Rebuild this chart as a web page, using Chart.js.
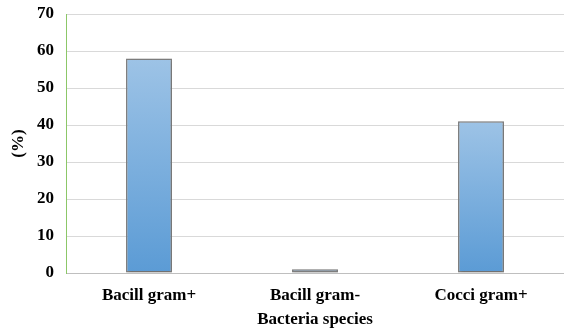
<!DOCTYPE html>
<html>
<head>
<meta charset="utf-8">
<script src="https://cdn.jsdelivr.net/npm/chart.js@4/dist/chart.umd.min.js"></script>
<style>
  html, body { margin: 0; padding: 0; background: #ffffff; }
  #wrap { width: 564px; height: 332px; }
</style>
</head>
<body>
<div id="wrap"><canvas id="c" width="564" height="332"></canvas></div>
<script>
// Share of isolates by bacteria species (%)
const categories = ['Bacill gram+', 'Bacill gram-', 'Cocci gram+'];
const percentages = [58, 1, 41];
const yTicks = [0, 10, 20, 30, 40, 50, 60, 70];

const serif = "'Liberation Serif', 'Times New Roman', serif";
const labelFont = { family: serif, size: 17, weight: 'bold' };

// Vertical gradient per bar, from the bar's top edge to the baseline
function barFill(ctx) {
  const chart = ctx.chart;
  const area = chart.chartArea;
  if (!area) return '#7aaee0';
  const y = chart.scales.y;
  const v = ctx.raw == null ? 0 : ctx.raw;
  const top = y.getPixelForValue(v);
  const bottom = y.getPixelForValue(0);
  if (!(bottom > top)) return '#7aaee0';
  const g = chart.ctx.createLinearGradient(0, top, 0, bottom);
  g.addColorStop(0, '#9dc3e6');
  g.addColorStop(1, '#5b9bd5');
  return g;
}

// Soft drop shadow under the bars
const barShadow = {
  id: 'barShadow',
  beforeDatasetsDraw(chart) {
    const c = chart.ctx;
    c.save();
    c.shadowColor = 'rgba(0,0,0,0.25)';
    c.shadowBlur = 3;
    c.shadowOffsetX = 1;
    c.shadowOffsetY = 1;
  },
  afterDatasetsDraw(chart) {
    chart.ctx.restore();
  }
};

new Chart(document.getElementById('c'), {
  type: 'bar',
  data: {
    labels: categories,
    datasets: [{
      data: percentages,
      backgroundColor: barFill,
      borderColor: '#7f7f7f',
      borderWidth: 1.5,
      borderSkipped: false,
      categoryPercentage: 1,
      barPercentage: 0.277
    }]
  },
  plugins: [barShadow],
  options: {
    responsive: false,
    animation: false,
    devicePixelRatio: 1,
    layout: { padding: { top: 14, right: 0, left: 0, bottom: 0 } },
    plugins: {
      legend: { display: false },
      tooltip: { enabled: false }
    },
    scales: {
      x: {
        offset: true,
        grid: { display: false, drawTicks: false },
        border: { display: true, color: '#bfbfbf', width: 1 },
        ticks: {
          color: '#000000',
          font: labelFont,
          padding: 12,
          maxRotation: 0
        },
        title: {
          display: true,
          text: 'Bacteria species',
          color: '#000000',
          font: labelFont,
          padding: { top: 0, bottom: 2 }
        },
        afterFit(scale) {
          scale.height = 59;
          scale.paddingLeft = 0;
          scale.paddingRight = 0;
        }
      },
      y: {
        min: 0,
        max: 70,
        afterBuildTicks(scale) {
          scale.ticks = yTicks.map(v => ({ value: v }));
        },
        grid: { color: '#d9d9d9', lineWidth: 1, drawTicks: false },
        border: { display: true, color: '#8cc768', width: 1 },
        ticks: {
          color: '#000000',
          font: labelFont,
          padding: 12
        },
        title: {
          display: true,
          text: '(%)',
          color: '#000000',
          font: labelFont,
          padding: { top: 8, bottom: 0 }
        },
        afterFit(scale) {
          scale.width = 66;
          scale.paddingTop = 0;
          scale.paddingBottom = 0;
        }
      }
    }
  }
});
</script>
</body>
</html>
